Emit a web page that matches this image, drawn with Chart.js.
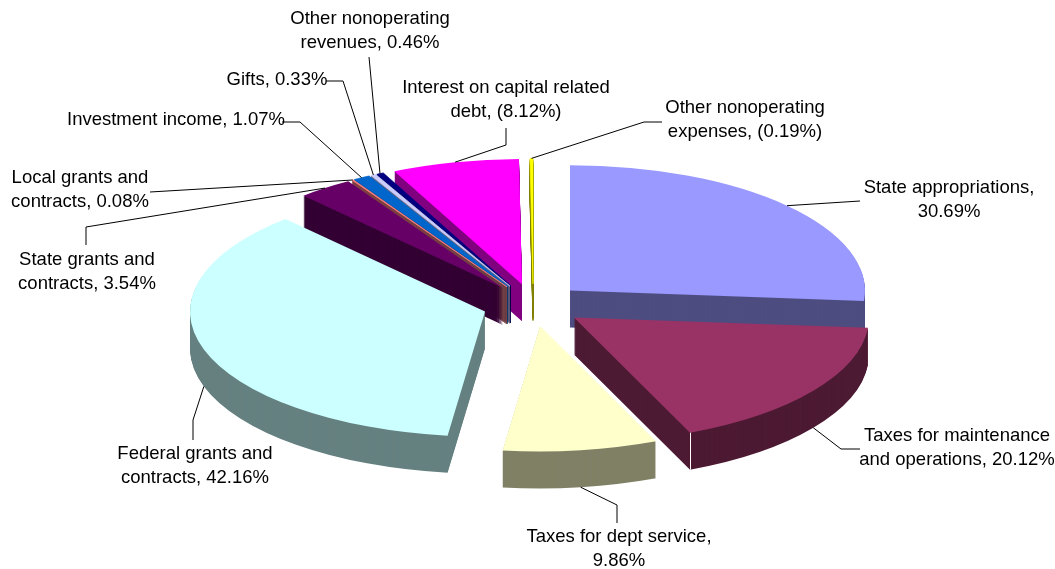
<!DOCTYPE html>
<html>
<head>
<meta charset="utf-8">
<title>Revenue sources</title>
<script src="https://cdn.jsdelivr.net/npm/chart.js@4"></script>
<style>
  html, body { margin: 0; background: #fff; }
  #revenue-pie { display: block; }
</style>
</head>
<body>
<canvas id="revenue-pie" width="1055" height="569"></canvas>
<script>
// === DATA ===
const categories = [
  'State appropriations', 'Taxes for maintenance and operations', 'Taxes for dept service',
  'Federal grants and contracts', 'State grants and contracts', 'Local grants and contracts',
  'Investment income', 'Gifts', 'Other nonoperating revenues',
  'Interest on capital related debt', 'Other nonoperating expenses'
];
// negative shares are expenses, shown in parentheses
const shares = [30.69, 20.12, 9.86, 42.16, 3.54, 0.08, 1.07, 0.33, 0.46, -8.12, -0.19];
const topColors = ['#9999FF', '#993366', '#FFFFCC', '#CCFFFF', '#660066', '#FF8080', '#0066CC', '#CCCCFF', '#000080', '#FF00FF', '#FFFF00'];
const wallColors = ['#4D4D80', '#4D1A33', '#808066', '#668080', '#330033', '#804040', '#003366', '#666680', '#000040', '#800080', '#808000'];

// === LAYOUT ===
const tilt = 0.425;
const pieDepth = 37;
const explode = 50;
const thinSlice = 0.1; // radians; narrower slices get an outline so they don't wash out
const paintOrder = [10, 9, 8, 7, 6, 5, 4, 0, 3, 1, 2]; // back to front
const wordsOnFirstLine = [2, 3, 4, 3, 3, 3, 9, 9, 2, 4, 2];
const labelCenters = [[949, 188], [957, 436], [619, 537], [195, 454], [87, 260], [80, 178], [176, 120], [277, 80], [370, 19], [506, 88], [745, 108]];
const lineHeight = 24;
// leader elbows, from the slice out to the text
const leaderElbows = [
  [[860, 201]], [[841, 449], [860, 449]], [[617, 505], [617, 523]], [[193, 420], [193, 440]],
  [[86, 227], [86, 245]], [[150, 192]], [[300, 122], [282, 122]], [[343, 81], [326, 81]],
  [[369, 57]], [[506, 145], [506, 128]], [[644, 122], [662, 122]]
];

function labelFor(i) {
  const v = Math.abs(shares[i]).toFixed(2) + '%';
  const words = `${categories[i]}, ${shares[i] < 0 ? `(${v})` : v}`.split(' ');
  const n = wordsOnFirstLine[i];
  return [words.slice(0, n).join(' '), words.slice(n).join(' ')].filter(Boolean);
}

function midAngle(arc) {
  return (arc.startAngle + arc.endAngle) / 2;
}

// whole pixels sideways keep the upright wall edges from smearing
function pushX(arc) {
  return Math.round(Math.cos(midAngle(arc)) * explode);
}

// flatten the circle into the pie's plane and push the slice out along its middle
function drawSlice(ctx, arc, lift) {
  ctx.save();
  ctx.translate(arc.x + pushX(arc), arc.y + lift);
  ctx.scale(1, tilt);
  ctx.translate(0, Math.sin(midAngle(arc)) * explode);
  ctx.translate(-arc.x, -arc.y);
  arc.draw(ctx);
  ctx.restore();
}

function rimPoint(arc, angle, lift) {
  return [
    arc.x + pushX(arc) + Math.cos(angle) * arc.outerRadius,
    arc.y + lift + tilt * (Math.sin(midAngle(arc)) * explode + Math.sin(angle) * arc.outerRadius)
  ];
}

const pie3d = {
  id: 'pie3d',
  beforeDatasetsDraw(chart) {
    const ctx = chart.ctx;
    const arcs = chart.getDatasetMeta(0).data;
    paintOrder.forEach(i => {
      const arc = arcs[i];
      const base = arc.options;
      const edge = arc.circumference < thinSlice ? 1 : 0;
      arc.options = { ...base, backgroundColor: wallColors[i], borderColor: wallColors[i], borderWidth: edge };
      for (let h = pieDepth; h > 0; h--) drawSlice(ctx, arc, h);
      arc.options = { ...base, borderColor: topColors[i], borderWidth: edge };
      drawSlice(ctx, arc, 0);
      arc.options = base;
    });

    // light seam on the front corner of the maintenance slice
    const seamTop = rimPoint(arcs[1], arcs[1].endAngle, 0);
    ctx.strokeStyle = '#fff';
    ctx.lineWidth = 1;
    ctx.beginPath();
    ctx.moveTo(Math.round(seamTop[0]) + 0.5, seamTop[1]);
    ctx.lineTo(Math.round(seamTop[0]) + 0.5, seamTop[1] + pieDepth);
    ctx.stroke();
    return false;
  },
  afterDraw(chart) {
    const ctx = chart.ctx;
    const arcs = chart.getDatasetMeta(0).data;
    ctx.save();
    ctx.strokeStyle = '#000';
    ctx.lineWidth = 1;
    arcs.forEach((arc, i) => {
      const mid = midAngle(arc);
      const lift = Math.sin(mid) > 0 ? pieDepth : 0; // front slices hang the leader off the wall
      const start = rimPoint(arc, mid, lift);
      ctx.beginPath();
      ctx.moveTo(start[0], start[1]);
      leaderElbows[i].forEach(p => ctx.lineTo(p[0], p[1]));
      ctx.stroke();
    });
    ctx.fillStyle = '#000';
    ctx.font = '18.5px "Liberation Sans"';
    ctx.textAlign = 'center';
    ctx.textBaseline = 'middle';
    categories.forEach((_, i) => {
      labelFor(i).forEach((line, k) => {
        ctx.fillText(line, labelCenters[i][0], labelCenters[i][1] + k * lineHeight);
      });
    });
    ctx.restore();
  }
};

// === CHART ===
new Chart(document.getElementById('revenue-pie').getContext('2d'), {
  type: 'pie',
  data: {
    labels: categories,
    datasets: [{
      data: shares.map(Math.abs),
      backgroundColor: topColors,
      borderWidth: 0,
      radius: 295,
      clip: false
    }]
  },
  options: {
    responsive: false,
    animation: false,
    layout: { padding: { left: 11, top: 41 } },
    plugins: { legend: { display: false }, tooltip: { enabled: false } }
  },
  plugins: [pie3d]
});
</script>
</body>
</html>
